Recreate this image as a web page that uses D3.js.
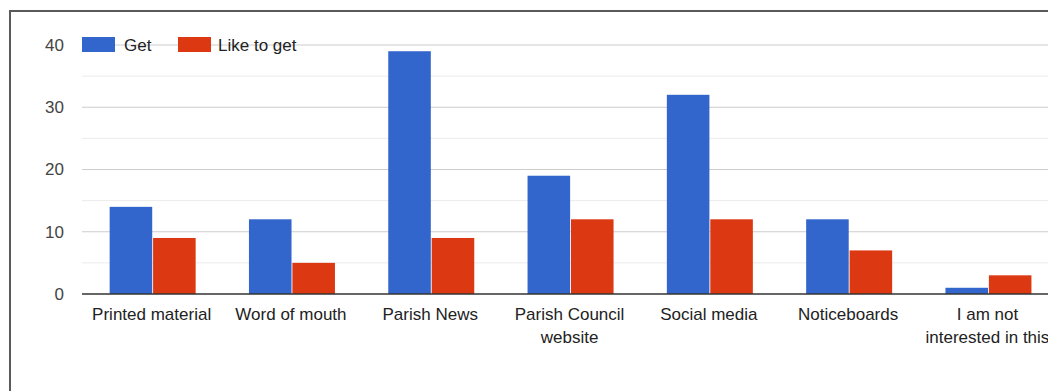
<!DOCTYPE html>
<html><head><meta charset="utf-8">
<script src="https://cdn.jsdelivr.net/npm/d3@7"></script>
<style>body{margin:0;background:#fff;overflow:hidden}svg{display:block}</style>
</head><body>
<svg id="c" width="1048" height="391"></svg>
<script>
const categories = ["Printed material","Word of mouth","Parish News","Parish Council website","Social media","Noticeboards","I am not interested in this"];
const catLines = [["Printed material"],["Word of mouth"],["Parish News"],["Parish Council","website"],["Social media"],["Noticeboards"],["I am not","interested in this"]];
const seriesNames = ["Get","Like to get"];
const getValues = [14,12,39,19,32,12,1];
const likeValues = [9,5,9,12,12,7,3];
const yTicks = [0,10,20,30,40];
const yMinor = [5,15,25,35];
const colors = ["#3366cc","#dc3912"];

const svg = d3.select("#c");
const font = "'Liberation Sans', Arial, sans-serif";
const left = 82, bandW = 139.3;
const x = d3.scaleBand().domain(categories).range([left, left + bandW*categories.length]).paddingInner(0).paddingOuter(0);
const y = d3.scaleLinear().domain([0,40]).range([294,45]);
const inner = d3.scaleBand().domain(seriesNames).range([0,86]).paddingInner(0.02);
const groupOffset = (x.bandwidth()-86)/2 + 1;

// frame
svg.append("path").attr("d","M10,391 L10,11 L1048,11").attr("fill","none").attr("stroke","#5a5a5a").attr("stroke-width",2);

// gridlines
const gx0 = 82, gx1 = 1048;
svg.append("g").selectAll("line").data(yMinor).join("line")
  .attr("x1",gx0).attr("x2",gx1).attr("y1",d=>y(d)).attr("y2",d=>y(d)).attr("stroke","#ebebeb").attr("stroke-width",1);
svg.append("g").selectAll("line").data(yTicks.filter(d=>d!==0)).join("line")
  .attr("x1",gx0).attr("x2",gx1).attr("y1",d=>y(d)).attr("y2",d=>y(d)).attr("stroke","#cccccc").attr("stroke-width",1);

// y labels
svg.append("g").selectAll("text").data(yTicks).join("text")
  .attr("x",64).attr("y",d=>y(d)).attr("dy","0.35em").attr("text-anchor","end")
  .attr("font-family",font).attr("font-size",17).attr("fill","#444").text(d=>d);

// bars
const data = categories.map((c,i)=>({c, vals:[getValues[i],likeValues[i]]}));
const g = svg.append("g").selectAll("g").data(data).join("g")
  .attr("transform",d=>`translate(${x(d.c)+groupOffset},0)`);
g.selectAll("rect").data(d=>d.vals.map((v,j)=>({v,s:seriesNames[j],j}))).join("rect")
  .attr("x",d=>inner(d.s)).attr("width",inner.bandwidth())
  .attr("y",d=>y(d.v)).attr("height",d=>y(0)-y(d.v)).attr("fill",d=>colors[d.j]);

// baseline
svg.append("line").attr("x1",gx0).attr("x2",gx1).attr("y1",y(0)).attr("y2",y(0)).attr("stroke","#333").attr("stroke-width",1.5);

// x labels
const xl = svg.append("g").selectAll("text").data(categories).join("text")
  .attr("x",d=>x(d)+x.bandwidth()/2).attr("y",320).attr("text-anchor","middle")
  .attr("font-family",font).attr("font-size",17).attr("fill","#222");
xl.each(function(d,i){
  d3.select(this).selectAll("tspan").data(catLines[i]).join("tspan")
    .attr("x",x(d)+x.bandwidth()/2).attr("dy",(t,k)=>k===0?0:23).text(t=>t);
});

// legend
const leg = [{n:"Get",bx:82,tx:124},{n:"Like to get",bx:178,tx:218}];
leg.forEach((l,i)=>{
  svg.append("rect").attr("x",l.bx).attr("y",37).attr("width",33).attr("height",15).attr("fill",colors[i]);
  svg.append("text").attr("x",l.tx).attr("y",45).attr("dy","0.35em").attr("font-family",font)
    .attr("font-size",17).attr("fill","#222").text(l.n);
});
</script>
</body></html>
